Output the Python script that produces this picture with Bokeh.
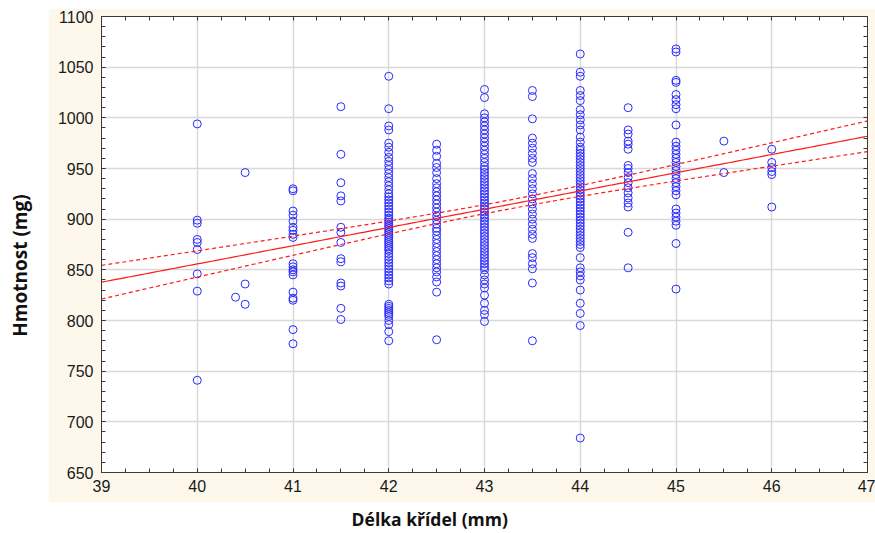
import math
from bokeh.plotting import figure
from bokeh.layouts import row, column
from bokeh.models import (Range1d, LinearAxis, SingleIntervalTicker, FixedTicker,
                          ColumnDataSource, Spacer)
from bokeh.core.properties import value
from bokeh.embed import file_html
from bokeh.resources import INLINE

# ---- data: body mass (mg) per wing length (mm) ----
wing_lengths = [40, 40.4, 40.5, 41, 41.5, 42, 42.5, 43, 43.5, 44, 44.5, 45, 45.5, 46]

mass_40 = [994, 899, 896, 880, 877, 870, 846, 829, 741]
mass_40_4 = [823]
mass_40_5 = [946, 836, 816]
mass_41 = [930, 928, 908, 904, 898, 892, 889, 885, 882, 856, 853, 850, 848, 845,
           828, 822, 820, 791, 777]
mass_41_5 = [1011, 964, 936, 923, 918, 892, 887, 877, 861, 858, 837, 834, 812, 801]
mass_42 = [1041, 1009, 992, 988, 975, 971, 966, 961, 957, 953, 949, 945, 941, 937,
           933, 929, 925, 922, 919, 916, 913, 910, 907, 904, 901, 899, 897, 895,
           893, 891, 889, 887, 885, 883, 881, 879, 877, 875, 873, 871, 869, 866,
           863, 860, 857, 854, 851, 848, 845, 842, 839, 836, 816, 814, 812, 810,
           808, 806, 804, 800, 796, 789, 780]
mass_42_5 = [974, 968, 962, 955, 951, 946, 940, 935, 931, 927, 923, 919, 915, 911,
             907, 903, 899, 895, 891, 888, 884, 880, 876, 872, 868, 864, 860, 856,
             852, 848, 843, 838, 828, 781]
mass_43 = [1028, 1020, 1004, 1000, 996, 992, 988, 984, 980, 976, 972, 968, 964, 960,
           956, 952, 949, 946, 943, 940, 937, 934, 931, 928, 925, 922, 919, 916,
           913, 910, 907, 904, 901, 898, 895, 892, 889, 886, 883, 880, 877, 874,
           871, 868, 865, 862, 859, 856, 853, 850, 845, 840, 836, 832, 825, 817,
           810, 806, 799]
mass_43_5 = [1027, 1021, 999, 980, 975, 970, 965, 960, 956, 945, 940, 935, 930, 925,
             920, 915, 910, 905, 900, 895, 890, 885, 881, 866, 862, 856, 851, 837, 780]
mass_44 = [1063, 1045, 1041, 1027, 1022, 1017, 1008, 1003, 998, 993, 988, 981, 976,
           971, 968, 965, 962, 959, 956, 953, 950, 947, 944, 941, 938, 935, 932,
           929, 926, 923, 920, 917, 914, 911, 908, 905, 902, 899, 896, 893, 890,
           887, 884, 881, 878, 875, 872, 862, 852, 848, 844, 840, 830, 817, 807,
           795, 684]
mass_44_5 = [1010, 988, 984, 977, 974, 969, 953, 950, 946, 941, 936, 931, 926, 921,
             916, 912, 887, 852]
mass_45 = [1068, 1065, 1037, 1035, 1023, 1018, 1013, 1009, 993, 976, 972, 968, 964,
           960, 956, 952, 948, 944, 940, 936, 932, 928, 924, 910, 906, 902, 898,
           894, 876, 831]
mass_45_5 = [977, 946]
mass_46 = [969, 956, 951, 947, 944, 912]

masses = [mass_40, mass_40_4, mass_40_5, mass_41, mass_41_5, mass_42, mass_42_5,
          mass_43, mass_43_5, mass_44, mass_44_5, mass_45, mass_45_5, mass_46]

# linear fit and 95% confidence band parameters
fit_intercept = 135.8
fit_slope = 18.0
fit_n = 500
fit_resid_sd = 50.0
fit_x_mean = 43.2
fit_x_var = 1.33
fit_t = 1.965

x_min, x_max = 39, 47
y_min, y_max = 650, 1100
x_ticks_interval = 1
y_ticks_interval = 50
x_minor_steps = 4
y_minor_steps = 5

x_title = "Délka křídel (mm)"
y_title = "Hmotnost (mg)"

# ---- build sources ----
xs, ys = [], []
for wl, ms in zip(wing_lengths, masses):
    xs += [wl] * len(ms)
    ys += ms
pts = ColumnDataSource(dict(x=xs, y=ys))

line_x = [x_min + i * 0.05 for i in range(int((x_max - x_min) / 0.05) + 1)]
line_y, up_y, lo_y = [], [], []
sxx = fit_n * fit_x_var
for xv in line_x:
    yv = fit_intercept + fit_slope * xv
    se = fit_resid_sd * math.sqrt(1.0 / fit_n + (xv - fit_x_mean) ** 2 / sxx)
    line_y.append(yv)
    up_y.append(yv + fit_t * se)
    lo_y.append(yv - fit_t * se)
fit_src = ColumnDataSource(dict(x=line_x, y=line_y, up=up_y, lo=lo_y))

BEIGE = "#fdf8eb"
AX = "#3a3a3a"

main = figure(width=827, height=494, x_range=Range1d(x_min, x_max), y_range=Range1d(y_min, y_max),
              output_backend="svg", toolbar_location=None, title=None,
              min_border_left=53, min_border_right=8, min_border_top=8, min_border_bottom=30,
              border_fill_color=BEIGE, background_fill_color="white",
              outline_line_color=AX, outline_line_width=1)

xt = SingleIntervalTicker(interval=x_ticks_interval, num_minor_ticks=x_minor_steps)
yt = SingleIntervalTicker(interval=y_ticks_interval, num_minor_ticks=y_minor_steps)
main.xaxis.ticker = xt
main.yaxis.ticker = yt
main.xgrid.ticker = xt
main.ygrid.ticker = yt

for ax in (main.xaxis[0], main.yaxis[0]):
    ax.major_tick_in = 4
    ax.major_tick_out = 0
    ax.minor_tick_in = 4
    ax.minor_tick_out = 0
    ax.axis_line_color = AX
    ax.major_tick_line_color = AX
    ax.minor_tick_line_color = AX
    ax.major_label_text_font = "Liberation Sans"
    ax.major_label_text_font_size = "16px"
    ax.major_label_text_color = "#1a1a1a"
main.yaxis.major_label_standoff = 8
main.xaxis.major_label_standoff = 7

# top and right axes: tick marks only (no labels)
x_step = x_ticks_interval / x_minor_steps
y_step = y_ticks_interval / y_minor_steps
top_marks = [x_min + i * x_step for i in range(int(round((x_max - x_min) / x_step)) + 1)]
right_marks = [y_min + i * y_step for i in range(int(round((y_max - y_min) / y_step)) + 1)]
for loc, marks in (("above", top_marks), ("right", right_marks)):
    a = LinearAxis(ticker=FixedTicker(ticks=[], minor_ticks=marks),
                   major_label_standoff=0, major_label_text_font_size="1px",
                   major_tick_in=0, major_tick_out=0, minor_tick_in=4, minor_tick_out=0,
                   axis_line_color=AX, minor_tick_line_color=AX)
    main.add_layout(a, loc)

for g in (main.xgrid[0], main.ygrid[0]):
    g.grid_line_color = "#d8d8d8"
    g.grid_line_width = 1.5

main.scatter("x", "y", source=pts, marker="circle", size=8, fill_color=None,
             line_color="#2a2aff", line_width=1)
main.line("x", "y", source=fit_src, line_color="#ff1a1a", line_width=1.2)
main.line("x", "up", source=fit_src, line_color="#ff1a1a", line_width=1.2, line_dash="4 3")
main.line("x", "lo", source=fit_src, line_color="#ff1a1a", line_width=1.2, line_dash="4 3")

# ---- axis titles as separate strips (ranges in pixels) ----
def strip(w, h):
    f = figure(width=w, height=h, x_range=Range1d(0, w), y_range=Range1d(0, h),
               output_backend="svg", toolbar_location=None, title=None,
               min_border_left=0, min_border_right=0, min_border_top=0, min_border_bottom=0,
               x_axis_location=None, y_axis_location=None,
               outline_line_color=None, background_fill_color="white", border_fill_color="white")
    f.grid.visible = False
    return f

ylab = strip(48, 533)
ylab.text(x=[19], y=[268], text=[y_title], angle=math.pi / 2,
          text_font=value("Open Sans"), text_font_style="bold", text_font_size="19px",
          text_align="center", text_baseline="middle", text_color="#111111")

xlab = strip(827, 31)
xlab.text(x=[270], y=[15], text=[x_title],
          text_font=value("Open Sans"), text_font_style="bold", text_font_size="17.5px",
          text_align="left", text_baseline="middle", text_color="#111111")

top_pad = Spacer(width=827, height=8, styles={"background-color": "white"})

layout = row(ylab, column(top_pad, main, xlab, spacing=0), spacing=0)

open("out.html", "w").write(file_html(layout, INLINE))
